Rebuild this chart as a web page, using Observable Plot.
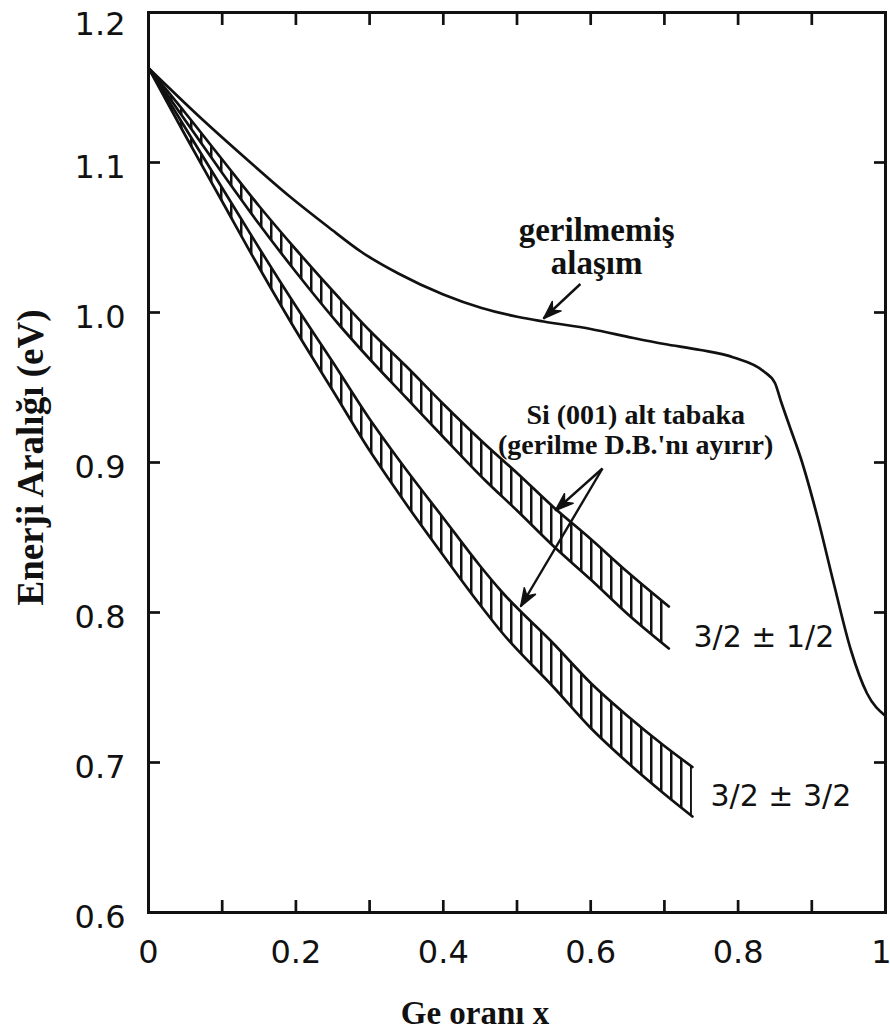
<!DOCTYPE html>
<html>
<head>
<meta charset="utf-8">
<script src="https://cdn.jsdelivr.net/npm/d3@7"></script>
<script src="https://cdn.jsdelivr.net/npm/@observablehq/plot@0.6"></script>
<style>
  html, body { margin: 0; padding: 0; background: #fff; }
</style>
</head>
<body>
<div id="chart"></div>
<script>
// ---------- data ----------
// unstrained (gerilmemiş) alloy band gap
const unstrainedX = [0, 0.068, 0.136, 0.19, 0.244, 0.29, 0.339, 0.40, 0.452, 0.502, 0.536, 0.60, 0.658, 0.70, 0.749, 0.794, 0.834, 0.85, 0.858, 0.87, 0.885, 0.908, 0.930, 0.953, 0.975, 1.0];
const unstrainedY = [1.163, 1.131, 1.101, 1.078, 1.057, 1.040, 1.026, 1.012, 1.003, 0.997, 0.994, 0.989, 0.983, 0.979, 0.975, 0.970, 0.961, 0.953, 0.941, 0.924, 0.903, 0.863, 0.819, 0.775, 0.746, 0.731];

// strained on Si(001): 3/2 ± 1/2 band (upper and lower edge)
const band1X  = [0, 0.05, 0.10, 0.15, 0.20, 0.26, 0.30, 0.35, 0.40, 0.457, 0.50, 0.55, 0.60, 0.65, 0.706];
const band1Hi = [1.163, 1.133, 1.102, 1.071, 1.042, 1.009, 0.988, 0.964, 0.939, 0.912, 0.893, 0.870, 0.849, 0.827, 0.804];
const band1Lo = [1.163, 1.128, 1.093, 1.059, 1.027, 0.991, 0.969, 0.943, 0.917, 0.888, 0.868, 0.844, 0.822, 0.799, 0.776];

// strained on Si(001): 3/2 ± 3/2 band
const band2X  = [0, 0.05, 0.10, 0.15, 0.195, 0.25, 0.30, 0.326, 0.35, 0.40, 0.45, 0.479, 0.55, 0.60, 0.65, 0.70, 0.738];
const band2Hi = [1.163, 1.123, 1.083, 1.043, 1.008, 0.967, 0.929, 0.911, 0.895, 0.863, 0.831, 0.814, 0.779, 0.753, 0.731, 0.711, 0.697];
const band2Lo = [1.163, 1.118, 1.074, 1.030, 0.992, 0.948, 0.908, 0.889, 0.872, 0.838, 0.805, 0.787, 0.750, 0.723, 0.700, 0.679, 0.664];

// ticks
const xLabelTicks = [0, 0.2, 0.4, 0.6, 0.8, 1];
const xTickLabels = ["0", "0.2", "0.4", "0.6", "0.8", "1"];
const xMinorTicks = [0.1, 0.2, 0.3, 0.4, 0.5, 0.6, 0.7, 0.8, 0.9];
const yLabelTicks = [0.6, 0.7, 0.8, 0.9, 1.0, 1.1, 1.2];
const yTickLabels = ["0.6", "0.7", "0.8", "0.9", "1.0", "1.1", "1.2"];
const yMinorTicks = [0.7, 0.8, 0.9, 1.0, 1.1];

// texts
const xTitle = "Ge oranı x";
const yTitle = "Enerji Aralığı (eV)";
const note1 = "gerilmemiş\nalaşım";
const note2 = "Si (001) alt tabaka\n(gerilme D.B.'nı ayırır)";
const band1Label = "3/2 ± 1/2";
const band2Label = "3/2 ± 3/2";

// annotation anchors (data coordinates)
const noteX = [0.608, 0.661];
const noteY = [1.026, 0.906];
const bandLabelX = [0.7395, 0.7626];
const bandLabelY = [0.7767, 0.6713];
const arrowX1 = [0.586, 0.616, 0.616];
const arrowY1 = [1.019, 0.896, 0.896];
const arrowX2 = [0.536, 0.552, 0.505];
const arrowY2 = [0.996, 0.868, 0.804];

// ---------- layout ----------
const W = 890, H = 1031, mT = 12, mB = 119, mL = 148, mR = 5;
const xDomain = [0, 1], yDomain = [0.6, 1.2];
const kx = (W - mL - mR) / (xDomain[1] - xDomain[0]);
const ky = (H - mT - mB) / (yDomain[1] - yDomain[0]);

// ---------- build tables ----------
const unstrained = unstrainedX.map((x, i) => ({x, y: unstrainedY[i]}));
const band1 = band1X.map((x, i) => ({x, hi: band1Hi[i], lo: band1Lo[i]}));
const band2 = band2X.map((x, i) => ({x, hi: band2Hi[i], lo: band2Lo[i]}));
const arrows = arrowX1.map((x1, i) => {
  const x2 = arrowX2[i], y1 = arrowY1[i], y2 = arrowY2[i];
  const dxp = (x1 - x2) * kx, dyp = -(y1 - y2) * ky; // screen direction tip -> tail
  const rot = Math.atan2(dxp, -dyp) * 180 / Math.PI;
  return {x1, y1, x2, y2, rot};
});
const notes = [note1, note2].map((t, i) => ({t, x: noteX[i], y: noteY[i]}));
const bandLabels = [band1Label, band2Label].map((t, i) => ({t, x: bandLabelX[i], y: bandLabelY[i]}));
const xLabelsMain = xLabelTicks.slice(0, -1).map((v, i) => ({v, t: xTickLabels[i]}));
const xLabelLast = [{v: xLabelTicks[xLabelTicks.length - 1], t: xTickLabels[xTickLabels.length - 1]}];
const yLabelsMain = yLabelTicks.slice(0, -1).map((v, i) => ({v, t: yTickLabels[i]}));
const yLabelTop = [{v: yLabelTicks[yLabelTicks.length - 1], t: yTickLabels[yTickLabels.length - 1]}];

// barbed, filled arrow head (drawn from the tip backwards)
const headShape = {
  draw(context, l) {
    const w = l * 0.36;
    context.moveTo(0, 0);
    context.lineTo(-w, -l);
    context.lineTo(0, -l * 0.68);
    context.lineTo(w, -l);
    context.closePath();
  }
};

const serif = "'Liberation Serif', 'Times New Roman', serif";
const sans = "'DejaVu Sans', sans-serif";
const lw = 2.7;
const tickFont = 32;
const tickText = {fontSize: tickFont, fontFamily: sans, fill: "#111"};

const chart = Plot.plot({
  width: W,
  height: H,
  marginTop: mT,
  marginBottom: mB,
  marginLeft: mL,
  marginRight: mR,
  style: {fontFamily: sans, background: "#fff", color: "#111"},
  x: {domain: xDomain},
  y: {domain: yDomain},
  marks: [
    // hatched bands
    Plot.areaY(band1, {x: "x", y1: "lo", y2: "hi", fill: "url(#vhatch)", curve: "monotone-x"}),
    Plot.areaY(band2, {x: "x", y1: "lo", y2: "hi", fill: "url(#vhatch)", curve: "monotone-x"}),
    Plot.line(band1, {x: "x", y: "hi", stroke: "#111", strokeWidth: lw, curve: "monotone-x"}),
    Plot.line(band1, {x: "x", y: "lo", stroke: "#111", strokeWidth: lw, curve: "monotone-x"}),
    Plot.line(band2, {x: "x", y: "hi", stroke: "#111", strokeWidth: lw, curve: "monotone-x"}),
    Plot.line(band2, {x: "x", y: "lo", stroke: "#111", strokeWidth: lw, curve: "monotone-x"}),
    // unstrained alloy
    Plot.line(unstrained, {x: "x", y: "y", stroke: "#111", strokeWidth: lw, curve: "monotone-x"}),
    // arrows: shafts + filled heads
    Plot.link(arrows, {x1: "x1", y1: "y1", x2: "x2", y2: "y2", stroke: "#111", strokeWidth: 2.4}),
    Plot.vector(arrows, {x: "x2", y: "y2", rotate: "rot", length: 18, anchor: "start", shape: headShape, fill: "#111", stroke: "#111", strokeWidth: 1.5}),
    // annotations
    Plot.text(notes.slice(0, 1), {x: "x", y: "y", text: "t", lineAnchor: "bottom", lineHeight: 1.0, fontSize: 33, fontWeight: "bold", fontFamily: serif, fill: "#111"}),
    Plot.text(notes.slice(1), {x: "x", y: "y", text: "t", lineAnchor: "bottom", lineHeight: 1.04, fontSize: 28, fontWeight: "bold", fontFamily: serif, fill: "#111"}),
    Plot.text(bandLabels, {x: "x", y: "y", text: "t", textAnchor: "start", lineAnchor: "bottom", fontSize: 30, fontFamily: sans, fill: "#111"}),
    // frame
    Plot.frame({stroke: "#111", strokeWidth: 3}),
    // axes: inward ticks on all four sides
    Plot.axisX({anchor: "bottom", ticks: xMinorTicks, tickSize: -12, tickFormat: () => "", strokeWidth: lw, label: null}),
    Plot.axisX({anchor: "top", ticks: xMinorTicks, tickSize: -12, tickFormat: () => "", strokeWidth: lw, label: null}),
    Plot.axisY({anchor: "left", ticks: yMinorTicks, tickSize: -12, tickFormat: () => "", strokeWidth: lw, label: null}),
    Plot.axisY({anchor: "right", ticks: yMinorTicks, tickSize: -12, tickFormat: () => "", strokeWidth: lw, label: null}),
    // tick labels (x: below frame; y: left of frame)
    Plot.text(xLabelsMain, {x: "v", text: "t", frameAnchor: "bottom", textAnchor: "middle", lineAnchor: "top", dy: 28, ...tickText}),
    Plot.text(xLabelLast, {x: "v", text: "t", frameAnchor: "bottom", textAnchor: "end", lineAnchor: "top", dx: 6, dy: 28, ...tickText}),
    Plot.text(yLabelsMain, {y: "v", text: "t", frameAnchor: "left", textAnchor: "end", lineAnchor: "middle", dx: -23, dy: 5, ...tickText}),
    Plot.text(yLabelTop, {y: "v", text: "t", frameAnchor: "left", textAnchor: "end", lineAnchor: "middle", dx: -23, dy: 12, ...tickText}),
    // axis titles
    Plot.text([xTitle], {frameAnchor: "bottom", textAnchor: "middle", dx: -42, dy: 111, lineAnchor: "bottom", fontSize: 33, fontWeight: "bold", fontFamily: serif, fill: "#111"}),
    Plot.text([yTitle], {frameAnchor: "left", textAnchor: "middle", lineAnchor: "middle", dx: -117, dy: -5, rotate: -90, fontSize: 37, fontWeight: "bold", fontFamily: serif, fill: "#111"})
  ]
});

// hatch pattern definition (vertical lines)
const ns = "http://www.w3.org/2000/svg";
const svg = chart.tagName.toLowerCase() === "svg" ? chart : chart.querySelector("svg");
const defs = document.createElementNS(ns, "defs");
const pat = document.createElementNS(ns, "pattern");
pat.setAttribute("id", "vhatch");
pat.setAttribute("patternUnits", "userSpaceOnUse");
pat.setAttribute("width", "10");
pat.setAttribute("height", "20");
const bg = document.createElementNS(ns, "rect");
bg.setAttribute("width", "10"); bg.setAttribute("height", "20"); bg.setAttribute("fill", "#fff");
const ln = document.createElementNS(ns, "rect");
ln.setAttribute("x", "0"); ln.setAttribute("y", "0"); ln.setAttribute("width", "2.5"); ln.setAttribute("height", "20"); ln.setAttribute("fill", "#111");
pat.appendChild(bg); pat.appendChild(ln);
defs.appendChild(pat);
svg.insertBefore(defs, svg.firstChild);

document.getElementById("chart").appendChild(chart);
</script>
</body>
</html>
